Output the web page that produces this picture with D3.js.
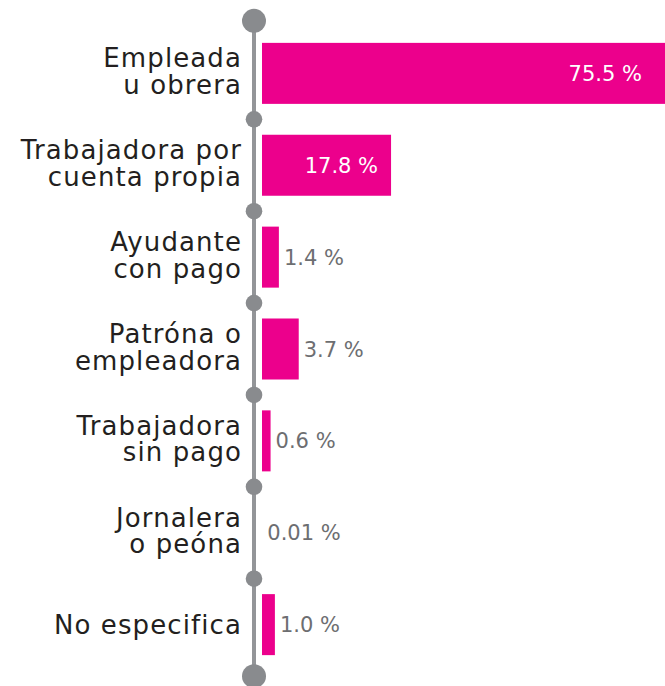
<!DOCTYPE html>
<html>
<head>
<meta charset="utf-8">
<script src="https://cdn.jsdelivr.net/npm/d3@7"></script>
<style>
  body { margin: 0; background: #fff; }
  svg { display: block; }
</style>
</head>
<body>
<div id="chart"></div>
<script>
// categories (each one split in lines), values and the printed labels
const categories = [
  ["Empleada", "u obrera"],
  ["Trabajadora por", "cuenta propia"],
  ["Ayudante", "con pago"],
  ["Patróna o", "empleadora"],
  ["Trabajadora", "sin pago"],
  ["Jornalera", "o peóna"],
  ["No especifica"]
];
const values = [75.5, 17.8, 1.4, 3.7, 0.6, 0.01, 1.0];
const valueLabels = ["75.5 %", "17.8 %", "1.4 %", "3.7 %", "0.6 %", "0.01 %", "1.0 %"];

const width = 665;
const height = 686;
const axisX = 254;
const barX = 262;

const data = categories.map((c, i) => ({ id: i, lines: c, value: values[i], label: valueLabels[i] }));

const svg = d3.select("#chart")
  .append("svg")
  .attr("width", width)
  .attr("height", height);

const y = d3.scaleBand()
  .domain(data.map(d => d.id))
  .range([12, 686])
  .padding(0.336);

// bars are not drawn to a linear scale in the original, a power scale is close
const x = d3.scalePow()
  .exponent(0.8)
  .domain([0, 75.5])
  .range([0, 410]);

const gap = (y.step() - y.bandwidth()) / 2;
const first = y(0);
const last = y(data.length - 1) + y.bandwidth();

// vertical line
svg.append("line")
  .attr("x1", axisX).attr("x2", axisX)
  .attr("y1", first - 22).attr("y2", last + 21)
  .attr("stroke", "#939598")
  .attr("stroke-width", 4);

// separator dots
const seps = data.slice(1).map(d => y(d.id) - gap);
svg.append("g")
  .selectAll("circle")
  .data(seps)
  .enter()
  .append("circle")
  .attr("cx", axisX)
  .attr("cy", d => d)
  .attr("r", 8.3)
  .attr("fill", "#898b8e");

// end dots
svg.append("g")
  .selectAll("circle")
  .data([first - 22, last + 21])
  .enter()
  .append("circle")
  .attr("cx", axisX)
  .attr("cy", d => d)
  .attr("r", 12)
  .attr("fill", "#898b8e");

// bars
svg.append("g")
  .selectAll("rect")
  .data(data)
  .enter()
  .append("rect")
  .attr("x", barX)
  .attr("y", d => y(d.id))
  .attr("width", d => x(d.value) < 1 ? 0 : x(d.value))
  .attr("height", y.bandwidth())
  .attr("fill", "#ec008c");

// value labels
svg.append("g")
  .selectAll("text")
  .data(data)
  .enter()
  .append("text")
  .attr("x", d => {
    const end = barX + x(d.value);
    return d.value > 10 ? Math.min(end, width - 10) - 13 : end + 5;
  })
  .attr("y", d => y(d.id) + y.bandwidth() / 2)
  .attr("dy", "0.36em")
  .attr("text-anchor", d => d.value > 10 ? "end" : "start")
  .attr("font-family", "DejaVu Sans")
  .attr("font-size", "21px")
  .attr("fill", d => d.value > 10 ? "#ffffff" : "#6d6e71")
  .text(d => d.label);

// category labels
const cat = svg.append("g")
  .selectAll("text")
  .data(data)
  .enter()
  .append("text")
  .attr("text-anchor", "end")
  .attr("font-family", "DejaVu Sans")
  .attr("font-size", "26px")
  .attr("letter-spacing", "1.1px")
  .attr("fill", "#231f20")
  .attr("y", d => y(d.id) + y.bandwidth() / 2);

cat.selectAll("tspan")
  .data(d => d.lines.map((l, i) => ({ text: l, i: i, n: d.lines.length })))
  .enter()
  .append("tspan")
  .attr("x", 242)
  .attr("dy", d => d.n === 1 ? 9 : (d.i === 0 ? -6 : 26.5))
  .text(d => d.text);
</script>
</body>
</html>
